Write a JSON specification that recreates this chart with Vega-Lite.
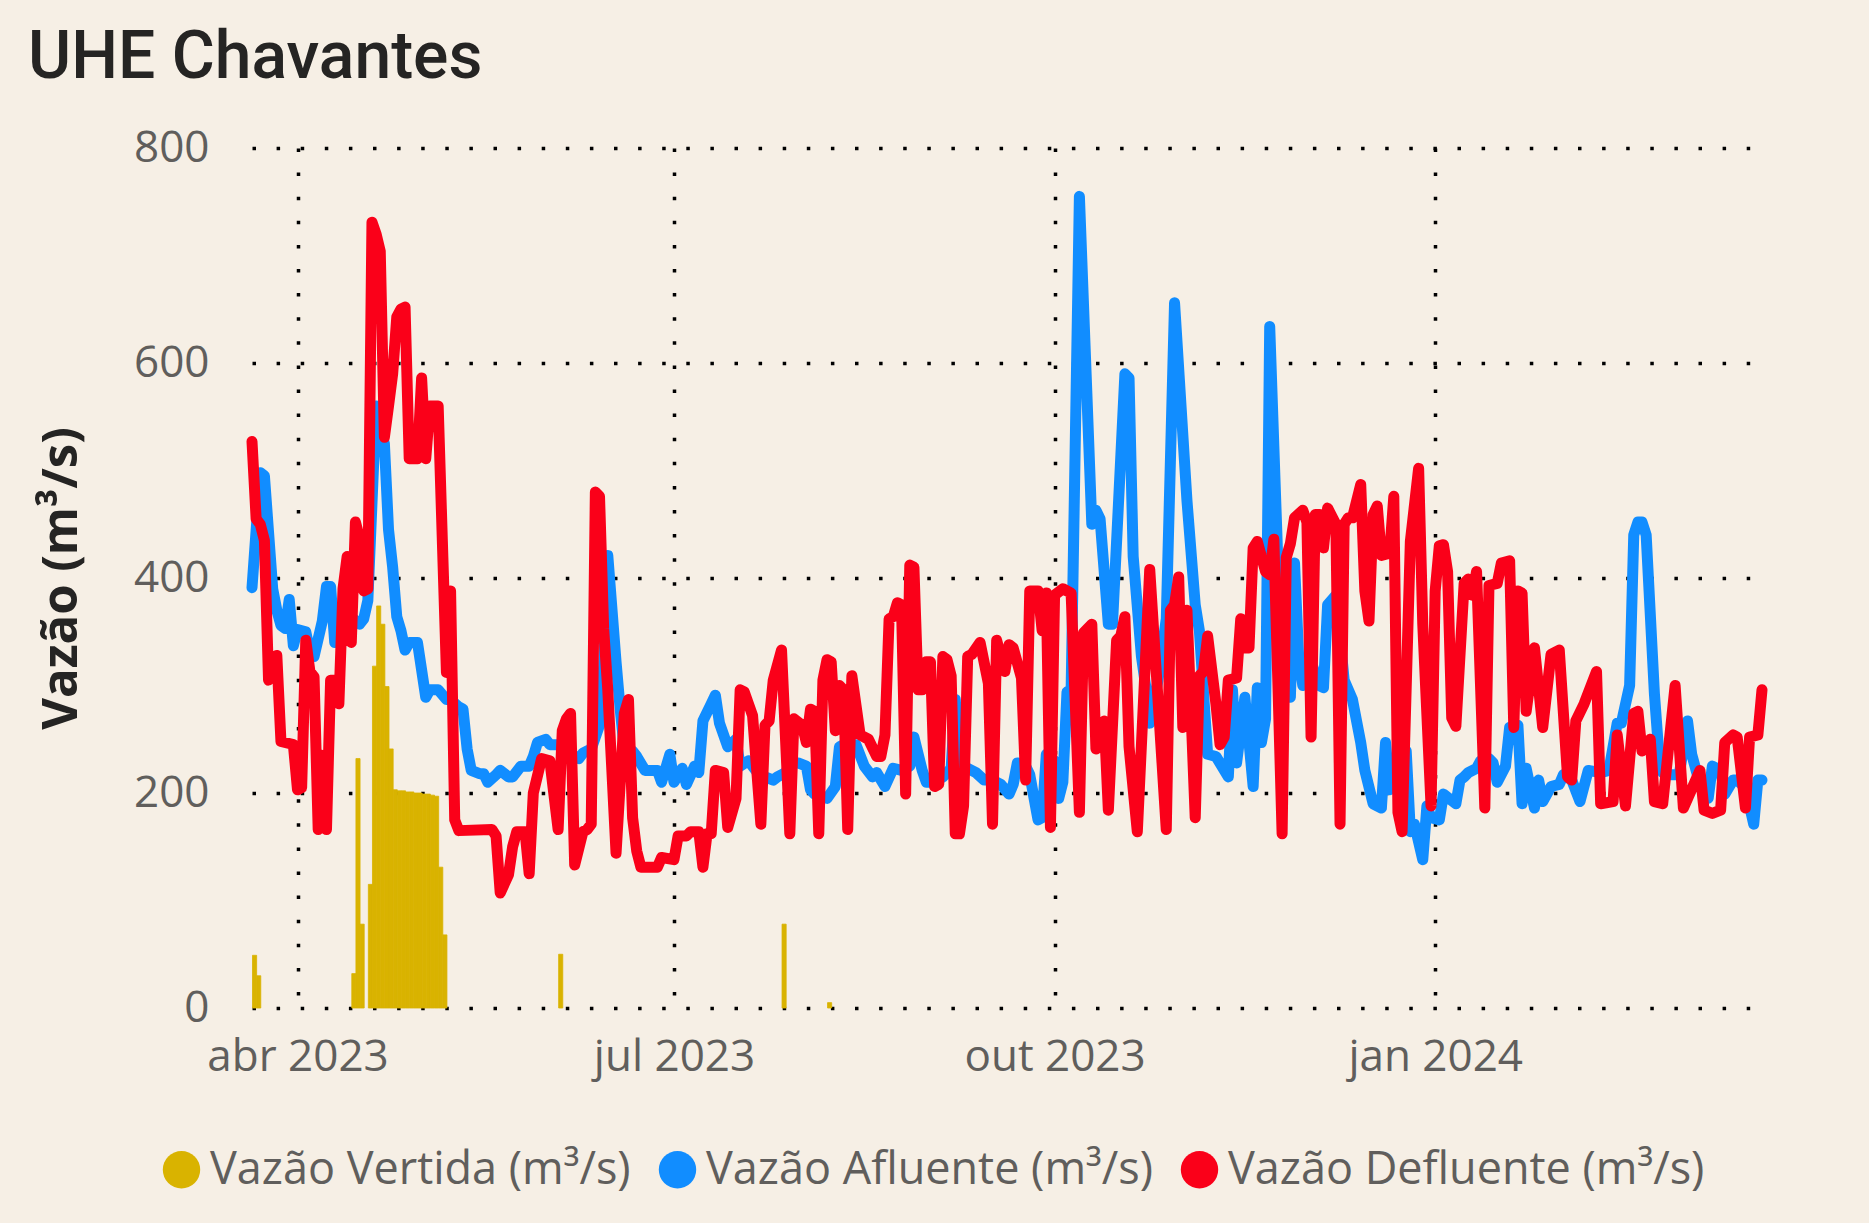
{
  "$schema": "https://vega.github.io/schema/vega-lite/v6.json",
  "width": 1510,
  "height": 860,
  "autosize": "none",
  "padding": {"left": 252, "top": 148, "right": 107, "bottom": 215},
  "background": "#F6EFE5",
  "title": {"text": "UHE Chavantes", "anchor": "start", "frame": "group", "font": "Roboto", "fontSize": 66, "fontWeight": 500, "color": "#252423", "dx": -224, "dy": 18, "offset": 0, "baseline": "alphabetic"},
  "config": {
    "view": {"stroke": null},
    "axis": {"domain": false, "ticks": false, "grid": true, "gridColor": "#000000", "gridOpacity": 1, "gridDash": [3.5, 20.6], "gridWidth": 3.5, "labelFont": "Open Sans", "labelFontSize": 44, "labelColor": "#605E5C", "labelLimit": 500}
  },
  "datasets": {
    "vertida": [
      {"data":"2023/03/21","vazao":49},{"data":"2023/03/22","vazao":30},{"data":"2023/04/14","vazao":32},{"data":"2023/04/15","vazao":232},{"data":"2023/04/16","vazao":78},{"data":"2023/04/18","vazao":115},{"data":"2023/04/19","vazao":318},{"data":"2023/04/20","vazao":374},{"data":"2023/04/21","vazao":357},{"data":"2023/04/22","vazao":299},{"data":"2023/04/23","vazao":241},{"data":"2023/04/24","vazao":203},{"data":"2023/04/25","vazao":202},{"data":"2023/04/26","vazao":202},{"data":"2023/04/27","vazao":201},{"data":"2023/04/28","vazao":201},{"data":"2023/04/29","vazao":200},{"data":"2023/04/30","vazao":200},{"data":"2023/05/01","vazao":199},{"data":"2023/05/02","vazao":199},{"data":"2023/05/03","vazao":198},{"data":"2023/05/04","vazao":197},{"data":"2023/05/05","vazao":131},{"data":"2023/05/06","vazao":68},{"data":"2023/06/03","vazao":50},{"data":"2023/07/27","vazao":78},{"data":"2023/08/07","vazao":5}
    ],
    "afluente": [
      {"data":"2023/03/21","vazao":391},{"data":"2023/03/23","vazao":498},{"data":"2023/03/24","vazao":495},{"data":"2023/03/26","vazao":390},{"data":"2023/03/27","vazao":370},{"data":"2023/03/28","vazao":356},{"data":"2023/03/29","vazao":353},{"data":"2023/03/30","vazao":380},{"data":"2023/03/31","vazao":337},{"data":"2023/04/01","vazao":352},{"data":"2023/04/03","vazao":350},{"data":"2023/04/04","vazao":331},{"data":"2023/04/05","vazao":327},{"data":"2023/04/07","vazao":360},{"data":"2023/04/08","vazao":392},{"data":"2023/04/09","vazao":392},{"data":"2023/04/10","vazao":340},{"data":"2023/04/11","vazao":349},{"data":"2023/04/12","vazao":366},{"data":"2023/04/14","vazao":364},{"data":"2023/04/16","vazao":357},{"data":"2023/04/17","vazao":362},{"data":"2023/04/18","vazao":379},{"data":"2023/04/20","vazao":560},{"data":"2023/04/21","vazao":540},{"data":"2023/04/22","vazao":525},{"data":"2023/04/23","vazao":445},{"data":"2023/04/24","vazao":410},{"data":"2023/04/25","vazao":364},{"data":"2023/04/26","vazao":351},{"data":"2023/04/27","vazao":333},{"data":"2023/04/28","vazao":340},{"data":"2023/04/30","vazao":340},{"data":"2023/05/02","vazao":289},{"data":"2023/05/03","vazao":296},{"data":"2023/05/05","vazao":296},{"data":"2023/05/07","vazao":287},{"data":"2023/05/08","vazao":287},{"data":"2023/05/10","vazao":280},{"data":"2023/05/11","vazao":278},{"data":"2023/05/12","vazao":241},{"data":"2023/05/13","vazao":221},{"data":"2023/05/15","vazao":218},{"data":"2023/05/16","vazao":218},{"data":"2023/05/17","vazao":210},{"data":"2023/05/19","vazao":217},{"data":"2023/05/20","vazao":221},{"data":"2023/05/22","vazao":215},{"data":"2023/05/23","vazao":215},{"data":"2023/05/25","vazao":225},{"data":"2023/05/27","vazao":225},{"data":"2023/05/28","vazao":234},{"data":"2023/05/29","vazao":247},{"data":"2023/05/31","vazao":250},{"data":"2023/06/01","vazao":245},{"data":"2023/06/03","vazao":245},{"data":"2023/06/05","vazao":239},{"data":"2023/06/08","vazao":232},{"data":"2023/06/09","vazao":237},{"data":"2023/06/11","vazao":241},{"data":"2023/06/13","vazao":263},{"data":"2023/06/14","vazao":318},{"data":"2023/06/15","vazao":421},{"data":"2023/06/17","vazao":322},{"data":"2023/06/18","vazao":278},{"data":"2023/06/19","vazao":241},{"data":"2023/06/21","vazao":239},{"data":"2023/06/22","vazao":234},{"data":"2023/06/24","vazao":221},{"data":"2023/06/27","vazao":221},{"data":"2023/06/28","vazao":210},{"data":"2023/06/30","vazao":236},{"data":"2023/07/01","vazao":210},{"data":"2023/07/03","vazao":223},{"data":"2023/07/04","vazao":208},{"data":"2023/07/06","vazao":225},{"data":"2023/07/07","vazao":219},{"data":"2023/07/08","vazao":267},{"data":"2023/07/10","vazao":283},{"data":"2023/07/11","vazao":291},{"data":"2023/07/12","vazao":265},{"data":"2023/07/14","vazao":243},{"data":"2023/07/16","vazao":250},{"data":"2023/07/17","vazao":225},{"data":"2023/07/19","vazao":230},{"data":"2023/07/20","vazao":225},{"data":"2023/07/22","vazao":215},{"data":"2023/07/23","vazao":215},{"data":"2023/07/25","vazao":212},{"data":"2023/07/26","vazao":215},{"data":"2023/07/28","vazao":219},{"data":"2023/07/29","vazao":228},{"data":"2023/07/31","vazao":228},{"data":"2023/08/02","vazao":225},{"data":"2023/08/03","vazao":203},{"data":"2023/08/04","vazao":199},{"data":"2023/08/07","vazao":195},{"data":"2023/08/09","vazao":206},{"data":"2023/08/10","vazao":243},{"data":"2023/08/11","vazao":245},{"data":"2023/08/14","vazao":245},{"data":"2023/08/16","vazao":225},{"data":"2023/08/18","vazao":215},{"data":"2023/08/19","vazao":219},{"data":"2023/08/21","vazao":206},{"data":"2023/08/23","vazao":223},{"data":"2023/08/25","vazao":221},{"data":"2023/08/27","vazao":225},{"data":"2023/08/28","vazao":252},{"data":"2023/08/30","vazao":221},{"data":"2023/08/31","vazao":210},{"data":"2023/09/02","vazao":210},{"data":"2023/09/04","vazao":215},{"data":"2023/09/06","vazao":223},{"data":"2023/09/07","vazao":287},{"data":"2023/09/08","vazao":223},{"data":"2023/09/10","vazao":223},{"data":"2023/09/12","vazao":219},{"data":"2023/09/14","vazao":212},{"data":"2023/09/16","vazao":212},{"data":"2023/09/18","vazao":208},{"data":"2023/09/20","vazao":199},{"data":"2023/09/21","vazao":208},{"data":"2023/09/22","vazao":228},{"data":"2023/09/24","vazao":225},{"data":"2023/09/25","vazao":217},{"data":"2023/09/27","vazao":175},{"data":"2023/09/28","vazao":177},{"data":"2023/09/29","vazao":236},{"data":"2023/10/01","vazao":230},{"data":"2023/10/02","vazao":195},{"data":"2023/10/03","vazao":210},{"data":"2023/10/04","vazao":294},{"data":"2023/10/05","vazao":296},{"data":"2023/10/07","vazao":755},{"data":"2023/10/10","vazao":450},{"data":"2023/10/11","vazao":463},{"data":"2023/10/12","vazao":455},{"data":"2023/10/14","vazao":357},{"data":"2023/10/15","vazao":357},{"data":"2023/10/18","vazao":590},{"data":"2023/10/19","vazao":586},{"data":"2023/10/20","vazao":420},{"data":"2023/10/22","vazao":327},{"data":"2023/10/23","vazao":300},{"data":"2023/10/24","vazao":265},{"data":"2023/10/26","vazao":305},{"data":"2023/10/28","vazao":362},{"data":"2023/10/30","vazao":656},{"data":"2023/11/02","vazao":472},{"data":"2023/11/04","vazao":375},{"data":"2023/11/05","vazao":351},{"data":"2023/11/07","vazao":236},{"data":"2023/11/09","vazao":234},{"data":"2023/11/12","vazao":215},{"data":"2023/11/13","vazao":296},{"data":"2023/11/14","vazao":228},{"data":"2023/11/16","vazao":289},{"data":"2023/11/18","vazao":206},{"data":"2023/11/19","vazao":298},{"data":"2023/11/20","vazao":247},{"data":"2023/11/21","vazao":269},{"data":"2023/11/22","vazao":634},{"data":"2023/11/25","vazao":300},{"data":"2023/11/27","vazao":289},{"data":"2023/11/28","vazao":414},{"data":"2023/11/29","vazao":327},{"data":"2023/11/30","vazao":300},{"data":"2023/12/02","vazao":322},{"data":"2023/12/04","vazao":300},{"data":"2023/12/05","vazao":298},{"data":"2023/12/06","vazao":375},{"data":"2023/12/08","vazao":384},{"data":"2023/12/10","vazao":305},{"data":"2023/12/12","vazao":287},{"data":"2023/12/14","vazao":247},{"data":"2023/12/15","vazao":221},{"data":"2023/12/17","vazao":190},{"data":"2023/12/19","vazao":186},{"data":"2023/12/20","vazao":247},{"data":"2023/12/21","vazao":203},{"data":"2023/12/23","vazao":210},{"data":"2023/12/25","vazao":239},{"data":"2023/12/26","vazao":164},{"data":"2023/12/27","vazao":171},{"data":"2023/12/29","vazao":138},{"data":"2023/12/30","vazao":188},{"data":"2023/12/31","vazao":177},{"data":"2024/01/02","vazao":175},{"data":"2024/01/03","vazao":199},{"data":"2024/01/06","vazao":190},{"data":"2024/01/07","vazao":212},{"data":"2024/01/08","vazao":215},{"data":"2024/01/09","vazao":219},{"data":"2024/01/11","vazao":223},{"data":"2024/01/12","vazao":230},{"data":"2024/01/14","vazao":232},{"data":"2024/01/15","vazao":228},{"data":"2024/01/16","vazao":210},{"data":"2024/01/18","vazao":225},{"data":"2024/01/19","vazao":261},{"data":"2024/01/21","vazao":263},{"data":"2024/01/22","vazao":190},{"data":"2024/01/23","vazao":223},{"data":"2024/01/25","vazao":186},{"data":"2024/01/26","vazao":212},{"data":"2024/01/27","vazao":192},{"data":"2024/01/29","vazao":206},{"data":"2024/01/31","vazao":208},{"data":"2024/02/01","vazao":217},{"data":"2024/02/03","vazao":212},{"data":"2024/02/05","vazao":192},{"data":"2024/02/07","vazao":221},{"data":"2024/02/10","vazao":219},{"data":"2024/02/12","vazao":221},{"data":"2024/02/14","vazao":265},{"data":"2024/02/15","vazao":265},{"data":"2024/02/17","vazao":300},{"data":"2024/02/18","vazao":440},{"data":"2024/02/19","vazao":452},{"data":"2024/02/20","vazao":452},{"data":"2024/02/21","vazao":440},{"data":"2024/02/23","vazao":292},{"data":"2024/02/24","vazao":240},{"data":"2024/02/25","vazao":219},{"data":"2024/02/27","vazao":217},{"data":"2024/02/29","vazao":217},{"data":"2024/03/02","vazao":267},{"data":"2024/03/03","vazao":236},{"data":"2024/03/05","vazao":208},{"data":"2024/03/07","vazao":195},{"data":"2024/03/08","vazao":225},{"data":"2024/03/10","vazao":221},{"data":"2024/03/11","vazao":199},{"data":"2024/03/13","vazao":212},{"data":"2024/03/14","vazao":212},{"data":"2024/03/16","vazao":205},{"data":"2024/03/18","vazao":171},{"data":"2024/03/19","vazao":212},{"data":"2024/03/20","vazao":212}
    ],
    "defluente": [
      {"data":"2023/03/21","vazao":527},{"data":"2023/03/22","vazao":455},{"data":"2023/03/23","vazao":450},{"data":"2023/03/24","vazao":435},{"data":"2023/03/25","vazao":305},{"data":"2023/03/26","vazao":310},{"data":"2023/03/27","vazao":328},{"data":"2023/03/28","vazao":248},{"data":"2023/03/30","vazao":246},{"data":"2023/03/31","vazao":245},{"data":"2023/04/01","vazao":203},{"data":"2023/04/02","vazao":205},{"data":"2023/04/03","vazao":342},{"data":"2023/04/04","vazao":313},{"data":"2023/04/05","vazao":308},{"data":"2023/04/06","vazao":166},{"data":"2023/04/07","vazao":235},{"data":"2023/04/08","vazao":166},{"data":"2023/04/09","vazao":305},{"data":"2023/04/10","vazao":305},{"data":"2023/04/11","vazao":283},{"data":"2023/04/12","vazao":390},{"data":"2023/04/13","vazao":420},{"data":"2023/04/14","vazao":340},{"data":"2023/04/15","vazao":452},{"data":"2023/04/16","vazao":437},{"data":"2023/04/17","vazao":388},{"data":"2023/04/18","vazao":390},{"data":"2023/04/19","vazao":731},{"data":"2023/04/20","vazao":720},{"data":"2023/04/21","vazao":704},{"data":"2023/04/22","vazao":531},{"data":"2023/04/23","vazao":560},{"data":"2023/04/24","vazao":590},{"data":"2023/04/25","vazao":643},{"data":"2023/04/26","vazao":650},{"data":"2023/04/27","vazao":652},{"data":"2023/04/28","vazao":511},{"data":"2023/04/30","vazao":511},{"data":"2023/05/01","vazao":586},{"data":"2023/05/02","vazao":511},{"data":"2023/05/03","vazao":560},{"data":"2023/05/05","vazao":560},{"data":"2023/05/07","vazao":312},{"data":"2023/05/08","vazao":388},{"data":"2023/05/09","vazao":175},{"data":"2023/05/10","vazao":165},{"data":"2023/05/18","vazao":166},{"data":"2023/05/19","vazao":160},{"data":"2023/05/20","vazao":107},{"data":"2023/05/22","vazao":124},{"data":"2023/05/23","vazao":150},{"data":"2023/05/24","vazao":164},{"data":"2023/05/26","vazao":164},{"data":"2023/05/27","vazao":125},{"data":"2023/05/28","vazao":200},{"data":"2023/05/30","vazao":232},{"data":"2023/06/01","vazao":230},{"data":"2023/06/03","vazao":166},{"data":"2023/06/04","vazao":258},{"data":"2023/06/05","vazao":269},{"data":"2023/06/06","vazao":274},{"data":"2023/06/07","vazao":133},{"data":"2023/06/09","vazao":164},{"data":"2023/06/10","vazao":166},{"data":"2023/06/11","vazao":171},{"data":"2023/06/12","vazao":480},{"data":"2023/06/13","vazao":476},{"data":"2023/06/14","vazao":353},{"data":"2023/06/15","vazao":296},{"data":"2023/06/17","vazao":144},{"data":"2023/06/19","vazao":274},{"data":"2023/06/20","vazao":287},{"data":"2023/06/21","vazao":177},{"data":"2023/06/22","vazao":146},{"data":"2023/06/23","vazao":131},{"data":"2023/06/27","vazao":131},{"data":"2023/06/28","vazao":140},{"data":"2023/07/01","vazao":138},{"data":"2023/07/02","vazao":160},{"data":"2023/07/04","vazao":160},{"data":"2023/07/05","vazao":164},{"data":"2023/07/07","vazao":164},{"data":"2023/07/08","vazao":131},{"data":"2023/07/09","vazao":162},{"data":"2023/07/10","vazao":162},{"data":"2023/07/11","vazao":221},{"data":"2023/07/13","vazao":219},{"data":"2023/07/14","vazao":168},{"data":"2023/07/16","vazao":195},{"data":"2023/07/17","vazao":296},{"data":"2023/07/18","vazao":294},{"data":"2023/07/19","vazao":283},{"data":"2023/07/20","vazao":272},{"data":"2023/07/22","vazao":171},{"data":"2023/07/23","vazao":263},{"data":"2023/07/24","vazao":267},{"data":"2023/07/25","vazao":305},{"data":"2023/07/27","vazao":333},{"data":"2023/07/29","vazao":162},{"data":"2023/07/30","vazao":269},{"data":"2023/08/01","vazao":263},{"data":"2023/08/02","vazao":247},{"data":"2023/08/03","vazao":278},{"data":"2023/08/04","vazao":276},{"data":"2023/08/05","vazao":162},{"data":"2023/08/06","vazao":305},{"data":"2023/08/07","vazao":324},{"data":"2023/08/08","vazao":322},{"data":"2023/08/09","vazao":258},{"data":"2023/08/10","vazao":300},{"data":"2023/08/11","vazao":296},{"data":"2023/08/12","vazao":166},{"data":"2023/08/13","vazao":309},{"data":"2023/08/15","vazao":254},{"data":"2023/08/17","vazao":250},{"data":"2023/08/19","vazao":234},{"data":"2023/08/20","vazao":234},{"data":"2023/08/21","vazao":254},{"data":"2023/08/22","vazao":362},{"data":"2023/08/23","vazao":364},{"data":"2023/08/24","vazao":377},{"data":"2023/08/25","vazao":375},{"data":"2023/08/26","vazao":199},{"data":"2023/08/27","vazao":412},{"data":"2023/08/28","vazao":410},{"data":"2023/08/29","vazao":296},{"data":"2023/08/30","vazao":296},{"data":"2023/08/31","vazao":322},{"data":"2023/09/01","vazao":322},{"data":"2023/09/02","vazao":206},{"data":"2023/09/03","vazao":208},{"data":"2023/09/04","vazao":327},{"data":"2023/09/05","vazao":324},{"data":"2023/09/06","vazao":309},{"data":"2023/09/07","vazao":162},{"data":"2023/09/08","vazao":162},{"data":"2023/09/09","vazao":188},{"data":"2023/09/10","vazao":327},{"data":"2023/09/11","vazao":329},{"data":"2023/09/13","vazao":340},{"data":"2023/09/15","vazao":302},{"data":"2023/09/16","vazao":171},{"data":"2023/09/17","vazao":342},{"data":"2023/09/19","vazao":313},{"data":"2023/09/20","vazao":338},{"data":"2023/09/21","vazao":335},{"data":"2023/09/23","vazao":307},{"data":"2023/09/24","vazao":212},{"data":"2023/09/25","vazao":388},{"data":"2023/09/27","vazao":388},{"data":"2023/09/28","vazao":351},{"data":"2023/09/29","vazao":386},{"data":"2023/09/30","vazao":168},{"data":"2023/10/01","vazao":384},{"data":"2023/10/03","vazao":390},{"data":"2023/10/05","vazao":386},{"data":"2023/10/07","vazao":182},{"data":"2023/10/08","vazao":349},{"data":"2023/10/10","vazao":357},{"data":"2023/10/11","vazao":241},{"data":"2023/10/13","vazao":267},{"data":"2023/10/14","vazao":184},{"data":"2023/10/16","vazao":342},{"data":"2023/10/17","vazao":346},{"data":"2023/10/18","vazao":364},{"data":"2023/10/19","vazao":243},{"data":"2023/10/21","vazao":164},{"data":"2023/10/24","vazao":408},{"data":"2023/10/28","vazao":166},{"data":"2023/10/29","vazao":370},{"data":"2023/10/30","vazao":375},{"data":"2023/10/31","vazao":401},{"data":"2023/11/01","vazao":261},{"data":"2023/11/02","vazao":370},{"data":"2023/11/04","vazao":177},{"data":"2023/11/05","vazao":309},{"data":"2023/11/06","vazao":313},{"data":"2023/11/07","vazao":346},{"data":"2023/11/09","vazao":283},{"data":"2023/11/10","vazao":245},{"data":"2023/11/11","vazao":252},{"data":"2023/11/12","vazao":305},{"data":"2023/11/14","vazao":307},{"data":"2023/11/15","vazao":362},{"data":"2023/11/16","vazao":335},{"data":"2023/11/17","vazao":335},{"data":"2023/11/18","vazao":428},{"data":"2023/11/19","vazao":434},{"data":"2023/11/21","vazao":406},{"data":"2023/11/22","vazao":403},{"data":"2023/11/23","vazao":436},{"data":"2023/11/25","vazao":162},{"data":"2023/11/26","vazao":419},{"data":"2023/11/27","vazao":432},{"data":"2023/11/28","vazao":456},{"data":"2023/11/30","vazao":463},{"data":"2023/12/01","vazao":452},{"data":"2023/12/02","vazao":252},{"data":"2023/12/03","vazao":459},{"data":"2023/12/04","vazao":459},{"data":"2023/12/05","vazao":428},{"data":"2023/12/06","vazao":465},{"data":"2023/12/08","vazao":450},{"data":"2023/12/09","vazao":171},{"data":"2023/12/10","vazao":450},{"data":"2023/12/11","vazao":456},{"data":"2023/12/12","vazao":456},{"data":"2023/12/14","vazao":487},{"data":"2023/12/15","vazao":388},{"data":"2023/12/16","vazao":360},{"data":"2023/12/17","vazao":459},{"data":"2023/12/18","vazao":467},{"data":"2023/12/19","vazao":421},{"data":"2023/12/21","vazao":423},{"data":"2023/12/22","vazao":476},{"data":"2023/12/23","vazao":182},{"data":"2023/12/24","vazao":164},{"data":"2023/12/26","vazao":434},{"data":"2023/12/28","vazao":502},{"data":"2023/12/29","vazao":357},{"data":"2023/12/31","vazao":188},{"data":"2024/01/01","vazao":388},{"data":"2024/01/02","vazao":430},{"data":"2024/01/03","vazao":431},{"data":"2024/01/04","vazao":406},{"data":"2024/01/05","vazao":270},{"data":"2024/01/06","vazao":262},{"data":"2024/01/08","vazao":395},{"data":"2024/01/09","vazao":399},{"data":"2024/01/10","vazao":384},{"data":"2024/01/11","vazao":406},{"data":"2024/01/13","vazao":186},{"data":"2024/01/14","vazao":393},{"data":"2024/01/16","vazao":395},{"data":"2024/01/17","vazao":414},{"data":"2024/01/19","vazao":416},{"data":"2024/01/20","vazao":261},{"data":"2024/01/21","vazao":388},{"data":"2024/01/22","vazao":386},{"data":"2024/01/23","vazao":276},{"data":"2024/01/25","vazao":335},{"data":"2024/01/27","vazao":261},{"data":"2024/01/29","vazao":329},{"data":"2024/01/31","vazao":333},{"data":"2024/02/02","vazao":215},{"data":"2024/02/03","vazao":212},{"data":"2024/02/04","vazao":267},{"data":"2024/02/06","vazao":283},{"data":"2024/02/09","vazao":313},{"data":"2024/02/10","vazao":190},{"data":"2024/02/13","vazao":192},{"data":"2024/02/14","vazao":254},{"data":"2024/02/16","vazao":188},{"data":"2024/02/18","vazao":274},{"data":"2024/02/19","vazao":276},{"data":"2024/02/20","vazao":239},{"data":"2024/02/22","vazao":250},{"data":"2024/02/23","vazao":192},{"data":"2024/02/25","vazao":190},{"data":"2024/02/28","vazao":300},{"data":"2024/03/01","vazao":186},{"data":"2024/03/05","vazao":221},{"data":"2024/03/06","vazao":184},{"data":"2024/03/08","vazao":181},{"data":"2024/03/10","vazao":184},{"data":"2024/03/11","vazao":247},{"data":"2024/03/13","vazao":254},{"data":"2024/03/14","vazao":252},{"data":"2024/03/16","vazao":186},{"data":"2024/03/17","vazao":252},{"data":"2024/03/19","vazao":254},{"data":"2024/03/20","vazao":296}
    ]
  },
  "encoding": {
    "x": {
      "field": "data", "type": "temporal",
      "scale": {"domain": [{"year": 2023, "month": 3, "date": 21}, {"year": 2024, "month": 3, "date": 20}], "nice": false},
      "axis": {
        "title": null,
        "values": [{"year": 2023, "month": 4, "date": 1}, {"year": 2023, "month": 7, "date": 1}, {"year": 2023, "month": 10, "date": 1}, {"year": 2024, "month": 1, "date": 1}],
        "labelExpr": "['jan','fev','mar','abr','mai','jun','jul','ago','set','out','nov','dez'][month(datum.value)] + ' ' + year(datum.value)",
        "labelPadding": 27, "labelFlush": false, "labelOverlap": false, "labelLimit": 500
      }
    },
    "y": {
      "field": "vazao", "type": "quantitative",
      "scale": {"domain": [0, 800], "nice": false},
      "axis": {
        "values": [0, 200, 400, 600, 800],
        "labelPadding": 43,
        "title": "Vazão (m³/s)",
        "titleFont": "Open Sans", "titleFontWeight": "bold", "titleFontSize": 49, "titleColor": "#252423",
        "titleAngle": -90, "titleX": -166, "titleY": 430, "titleAlign": "center", "titleBaseline": "bottom"
      }
    }
  },
  "layer": [
    {
      "data": {"name": "vertida"},
      "mark": {"type": "bar", "binSpacing": 0, "stroke": "#D9B300", "strokeWidth": 0.8},
      "encoding": {
        "x": {"field": "data", "timeUnit": "yearmonthdate", "type": "temporal", "axis": {"title": null}},
        "color": {
          "datum": "Vazão Vertida (m³/s)", "type": "nominal",
          "scale": {"domain": ["Vazão Vertida (m³/s)", "Vazão Afluente (m³/s)", "Vazão Defluente (m³/s)"], "range": ["#D9B300", "#118DFF", "#FA0019"]},
          "legend": {
            "title": null, "orient": "none", "direction": "horizontal", "legendX": -93, "legendY": 999,
            "symbolType": "circle", "symbolSize": 1400, "symbolStrokeWidth": 0,
            "labelFont": "Open Sans", "labelFontSize": 45, "labelColor": "#605E5C", "labelLimit": 1000, "labelOffset": 6, "columnPadding": 24,
            "encode": {"symbols": {"update": {"fill": {"scale": "color", "field": "value"}, "stroke": {"value": "transparent"}, "opacity": {"value": 1}}}}
          }
        }
      }
    },
    {
      "data": {"name": "afluente"},
      "mark": {"type": "line", "strokeWidth": 11, "strokeJoin": "round", "strokeCap": "round"},
      "encoding": {"color": {"datum": "Vazão Afluente (m³/s)", "type": "nominal"}}
    },
    {
      "data": {"name": "defluente"},
      "mark": {"type": "line", "strokeWidth": 11, "strokeJoin": "round", "strokeCap": "round"},
      "encoding": {"color": {"datum": "Vazão Defluente (m³/s)", "type": "nominal"}}
    }
  ]
}
